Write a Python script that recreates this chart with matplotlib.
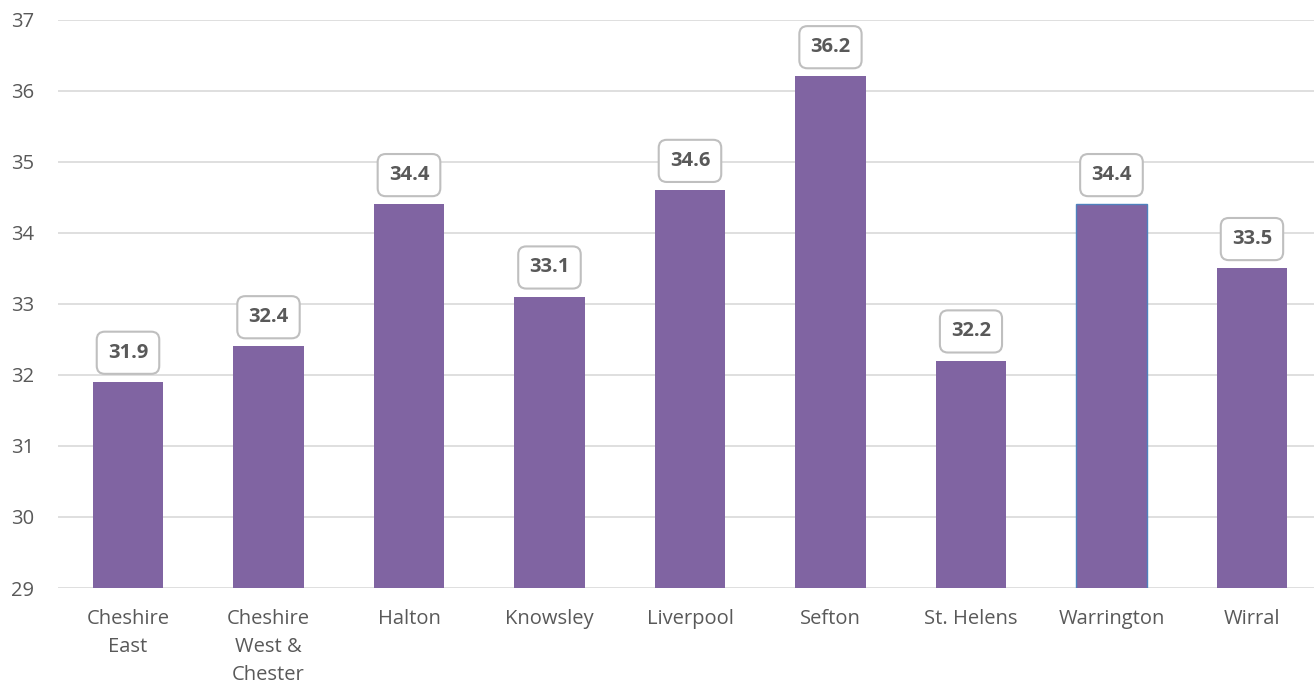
import matplotlib.pyplot as plt
import numpy as np

# данные
areas = ['Cheshire\nEast', 'Cheshire\nWest &\nChester', 'Halton', 'Knowsley',
         'Liverpool', 'Sefton', 'St. Helens', 'Warrington', 'Wirral']
values = [31.9, 32.4, 34.4, 33.1, 34.6, 36.2, 32.2, 34.4, 33.5]
yticks = [29, 30, 31, 32, 33, 34, 35, 36, 37]

plt.rcParams['font.family'] = ['Open Sans', 'DejaVu Sans']

fig = plt.figure(figsize=(13.14, 6.87), dpi=100)
ax = fig.add_axes([0.04395, 0.1441, 0.9623, 0.8275])

x = np.arange(len(areas))
bars = ax.bar(x, values, width=0.5, color='#8064a2', zorder=3)
# Warrington выделен тонкой синей рамкой
bars[7].set_edgecolor('#4f81bd')
bars[7].set_linewidth(1.0)

ax.set_ylim(29, 37)
ax.set_xlim(-0.5, len(areas) - 0.5)
ax.set_yticks(yticks)
ax.set_xticks(x)
ax.set_xticklabels(areas, linespacing=1.55)
ax.grid(axis='y', color='#d9d9d9', linewidth=1.2, zorder=0)

for s in ax.spines.values():
    s.set_visible(False)
ax.tick_params(axis='both', length=0, labelsize=14.5, labelcolor='#595959')
ax.tick_params(axis='x', pad=15)
ax.tick_params(axis='y', pad=17)

# подписи значений
for xi, v in zip(x, values):
    ax.annotate(f'{v:.1f}', (xi, v), xytext=(0, 21), textcoords='offset points',
                ha='center', va='center', fontsize=14.5, fontweight='bold',
                color='#595959', zorder=5,
                bbox=dict(boxstyle='round,pad=0.55,rounding_size=0.4',
                          fc='white', ec='#bfbfbf', lw=1.5))

plt.savefig('out.png', dpi=100)
